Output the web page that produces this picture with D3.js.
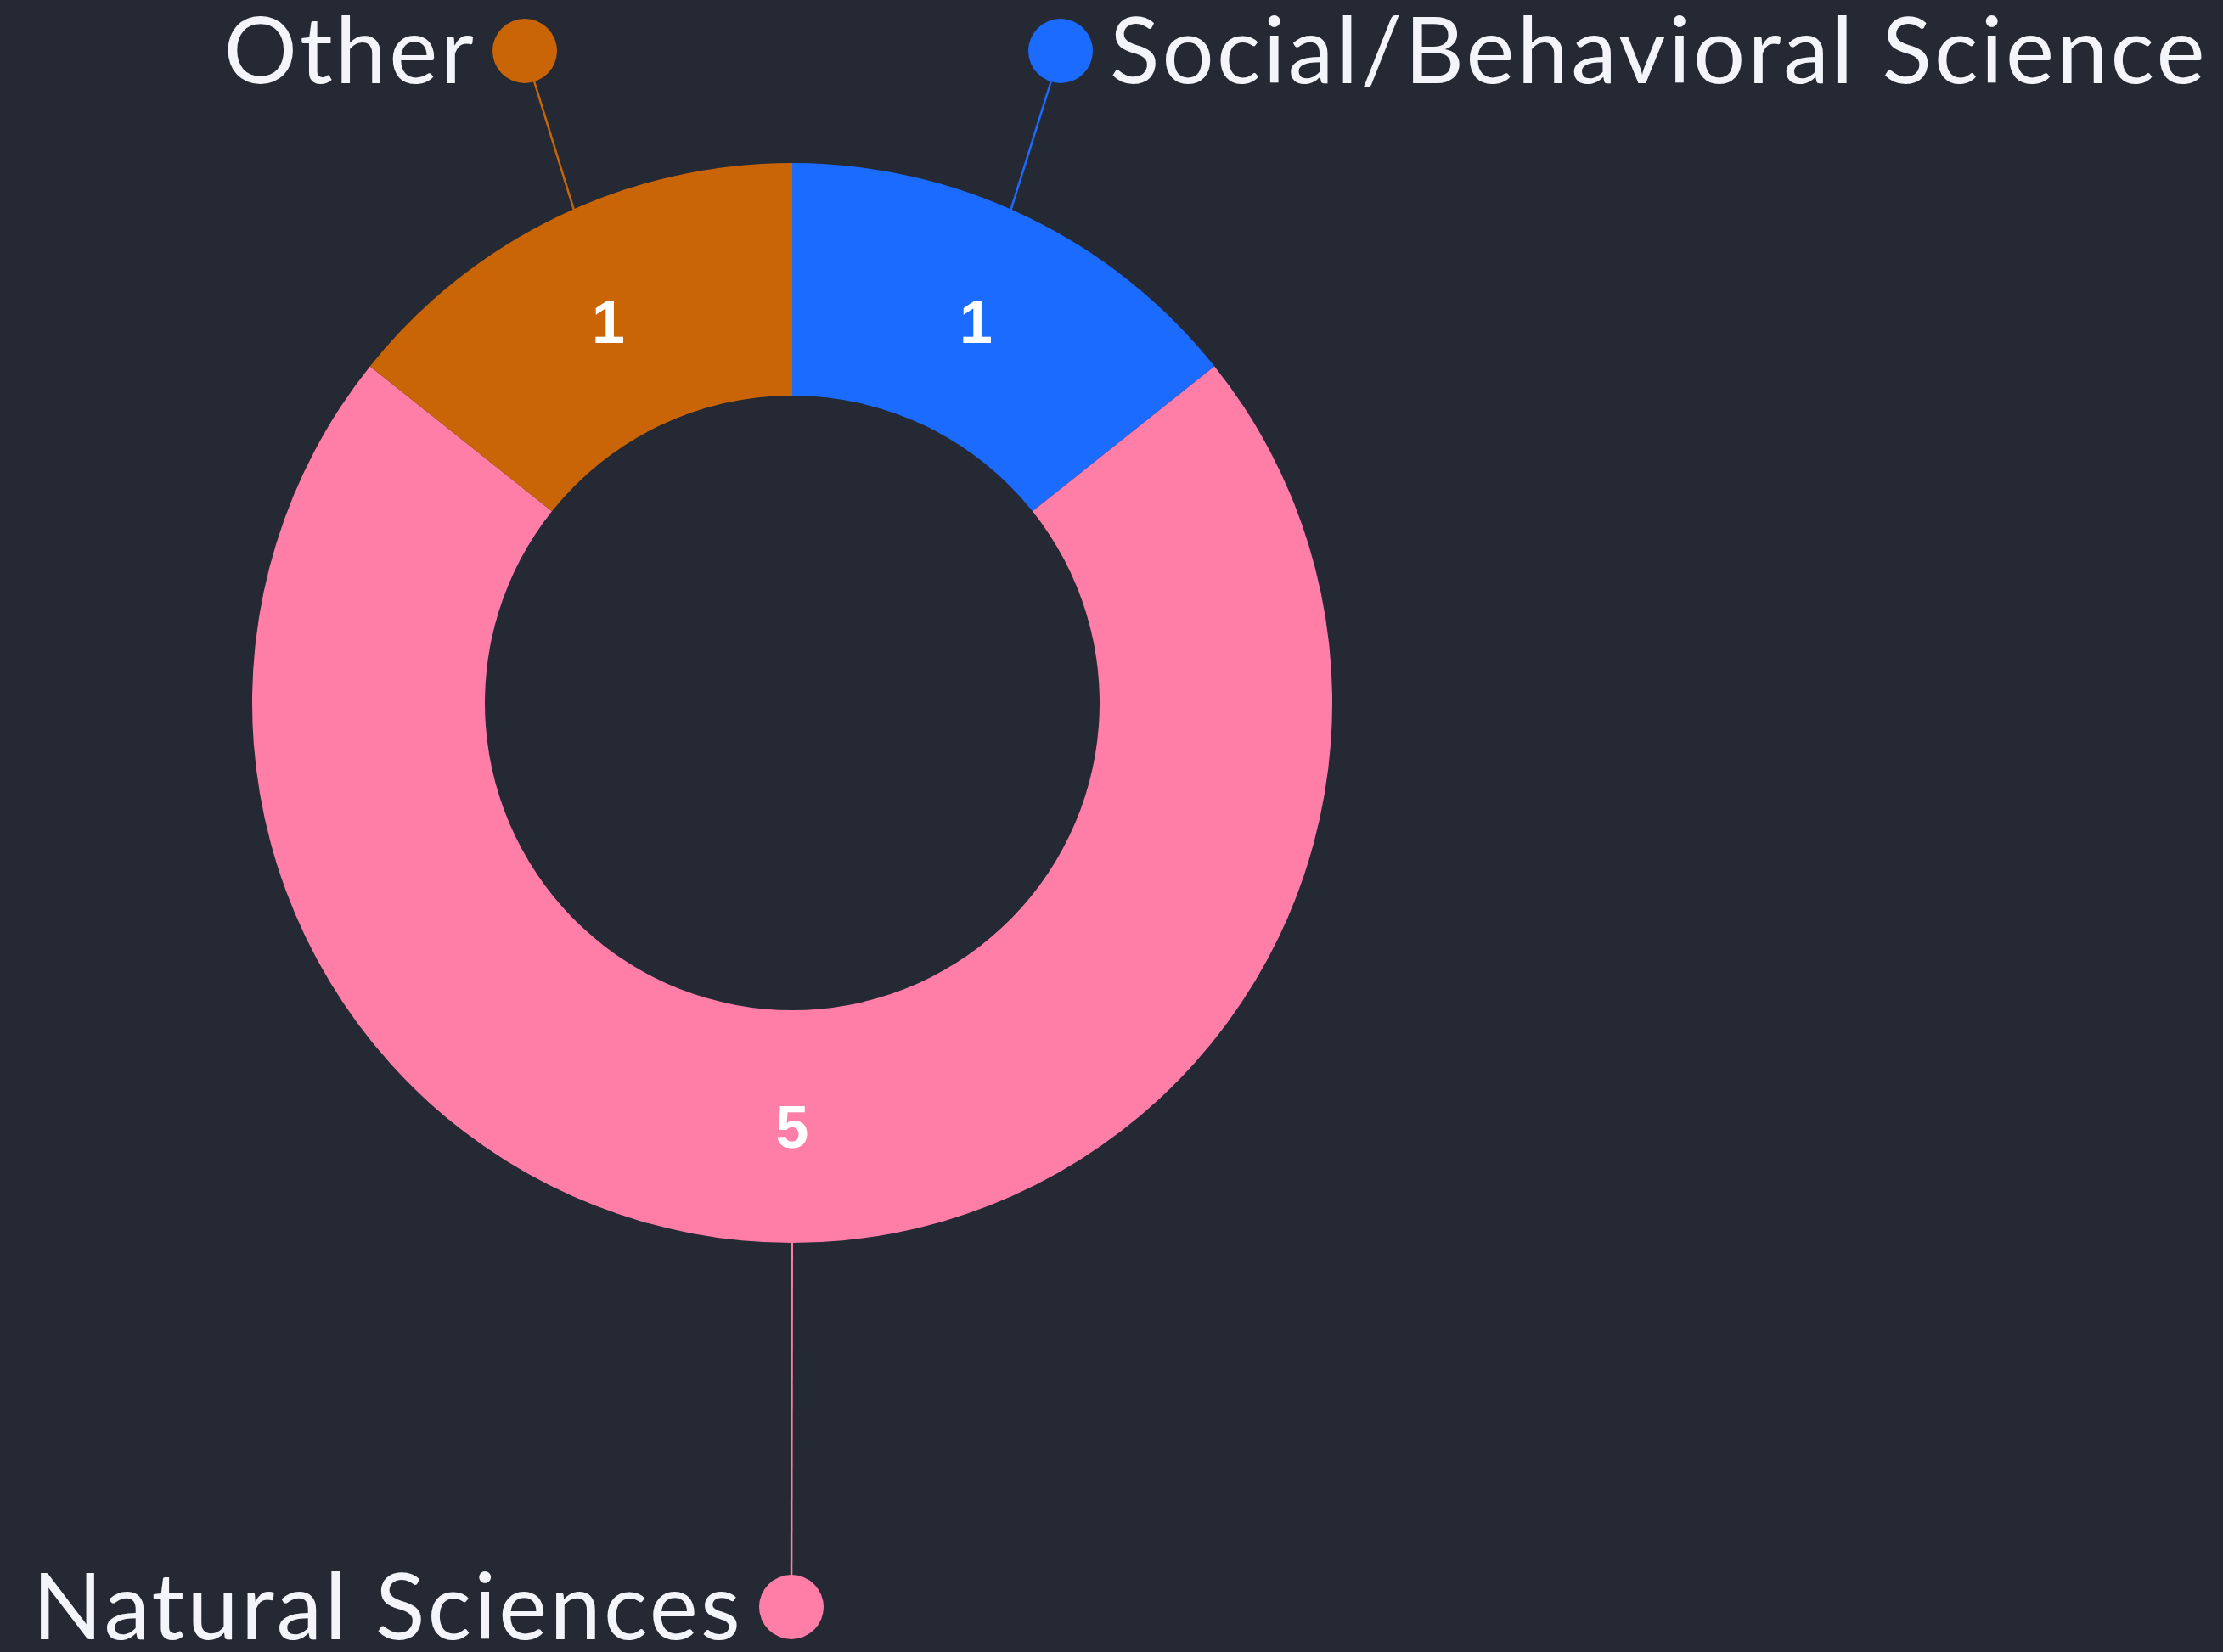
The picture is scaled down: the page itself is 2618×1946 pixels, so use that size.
<!DOCTYPE html>
<html>
<head>
<meta charset="utf-8">
<script src="https://cdn.jsdelivr.net/npm/d3@7"></script>
<style>
  html, body { margin: 0; padding: 0; background: #252934; }
  svg { display: block; }
</style>
</head>
<body>
<svg id="chart" width="2618" height="1946"></svg>
<script>
// data
const categories = ['Social/Behavioral Science', 'Natural Sciences', 'Other'];
const values = [1, 5, 1];
const colors = ['#1B6BFF', '#FF7EA8', '#CA6507'];

// where each callout dot sits and which side its text goes
const calloutDots = [[1249, 60], [932, 1893], [618, 60]];
const calloutSide = ['right', 'left', 'left'];

const svg = d3.select('#chart');
const cx = 933, cy = 828;
const outerR = 636, innerR = 362;

const data = categories.map((c, i) => ({ name: c, value: values[i], color: colors[i], dot: calloutDots[i], side: calloutSide[i] }));

const pie = d3.pie().value(d => d.value).sort(null);
const arc = d3.arc().innerRadius(innerR).outerRadius(outerR);
const arcs = pie(data);

// callout lines go from the dot toward the slice centroid; slices drawn on top hide the inner part
const lines = svg.append('g');
const g = svg.append('g').attr('transform', `translate(${cx},${cy})`);
const callouts = svg.append('g');

arcs.forEach(d => {
  const [mx, my] = arc.centroid(d);
  const [dx, dy] = d.data.dot;
  lines.append('line')
    .attr('x1', dx).attr('y1', dy)
    .attr('x2', cx + mx).attr('y2', cy + my)
    .attr('stroke', d.data.color)
    .attr('stroke-width', 2.5);
});

// slices
g.selectAll('.slice')
  .data(arcs)
  .enter()
  .append('path')
  .attr('class', 'slice')
  .attr('d', arc)
  .attr('fill', d => d.data.color);

// value labels
g.selectAll('.val')
  .data(arcs)
  .enter()
  .append('text')
  .attr('class', 'val')
  .attr('transform', d => `translate(${arc.centroid(d)})`)
  .attr('text-anchor', 'middle')
  .attr('dy', '0.36em')
  .attr('fill', '#ffffff')
  .attr('font-family', 'Liberation Sans, Arial, sans-serif')
  .attr('font-weight', 'bold')
  .attr('font-size', 70)
  .text(d => d.data.value);

// dots + names
arcs.forEach(d => {
  const [dx, dy] = d.data.dot;

  callouts.append('circle')
    .attr('cx', dx).attr('cy', dy)
    .attr('r', 38)
    .attr('fill', d.data.color);

  const right = d.data.side === 'right';
  callouts.append('text')
    .attr('x', right ? dx + 58 : dx - 57)
    .attr('y', dy + 38)
    .attr('text-anchor', right ? 'start' : 'end')
    .attr('fill', '#F4F5FA')
    .attr('font-family', 'Lato, sans-serif')
    .attr('font-size', 108)
    .attr('letter-spacing', 3.2)
    .text(d.data.name);
});
</script>
</body>
</html>
